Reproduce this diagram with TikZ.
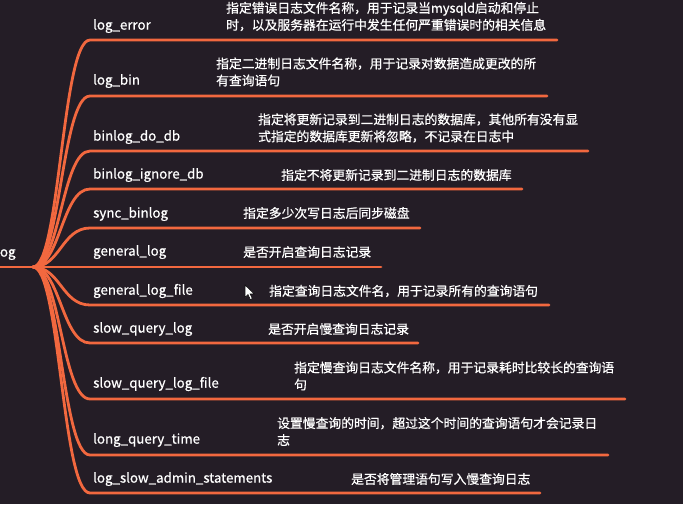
\documentclass[tikz,border=0pt]{standalone}
\usepackage{fontspec}
\setmainfont{Noto Sans CJK SC}
\newfontfamily\thickfont{Noto Sans CJK SC}[FakeBold=0.7]
\definecolor{bgc}{HTML}{241D26}
\definecolor{orng}{HTML}{F2683F}
\tikzset{
  lbl/.style={text=white, font=\thickfont\fontsize{13.3}{15}\selectfont, anchor=west, inner sep=0pt},
  desc/.style={text=white, font=\thickfont\fontsize{12.8}{17}\selectfont, anchor=west, inner sep=0pt, align=left},
  branch/.style={draw=orng, line width=2.8pt, line cap=round},
}
\begin{document}
\begin{tikzpicture}[x=1pt,y=-1pt]
\fill[bgc] (0,0) rectangle (683,504);
\useasboundingbox (0,0) rectangle (683,504);

% root
\node[lbl] (root) at (-4,253) {log};
\coordinate (r) at (33,267);
\coordinate (r0) at (-2,267);
\draw[branch] (r0) -- (r);

% branch ends
\coordinate (e1) at (557,40);
\coordinate (e2) at (547,96);
\coordinate (e3) at (588,151);
\coordinate (e4) at (522,189);
\coordinate (e5) at (420,228);
\coordinate (e6) at (381,267);
\coordinate (e7) at (549,305);
\coordinate (e8) at (418,343);
\coordinate (e9) at (625,399);
\coordinate (e10) at (608,455);
\coordinate (e11) at (540,493);

\foreach \i/\y in {1/40,2/96,3/151,4/189,5/228,7/305,8/343,9/399,10/455,11/493}{
  \draw[branch] (r) .. controls (60,267) and (62,\y) .. (90,\y) -- (e\i);
}
\draw[branch] (r) -- (e6);

% labels
\node[lbl] (n1) at (93,26) {log\_error};
\node[lbl] (n2) at (93,81) {log\_bin};
\node[lbl] (n3) at (93,137) {binlog\_do\_db};
\node[lbl] (n4) at (93,175) {binlog\_ignore\_db};
\node[lbl] (n5) at (93,214) {sync\_binlog};
\node[lbl] (n6) at (93,252) {general\_log};
\node[lbl] (n7) at (93,291) {general\_log\_file};
\node[lbl] (n8) at (93,329) {slow\_query\_log};
\node[lbl] (n9) at (93,384) {slow\_query\_log\_file};
\node[lbl] (n10) at (93,440) {long\_query\_time};
\node[lbl] (n11) at (93,479) {log\_slow\_admin\_statements};

% descriptions
\node[desc] (d1) at (226,16.5) {指定错误日志文件名称，用于记录当mysqld启动和停止\\时，以及服务器在运行中发生任何严重错误时的相关信息};
\node[desc] (d2) at (216,72) {指定二进制日志文件名称，用于记录对数据造成更改的所\\有查询语句};
\node[desc] (d3) at (258,128) {指定将更新记录到二进制日志的数据库，其他所有没有显\\式指定的数据库更新将忽略，不记录在日志中};
\node[desc] (d4) at (281,175) {指定不将更新记录到二进制日志的数据库};
\node[desc] (d5) at (243,213) {指定多少次写日志后同步磁盘};
\node[desc] (d6) at (243,252) {是否开启查询日志记录};
\node[desc] (d7) at (269,291) {指定查询日志文件名，用于记录所有的查询语句};
\node[desc] (d8) at (268,329) {是否开启慢查询日志记录};
\node[desc] (d9) at (294,376) {指定慢查询日志文件名称，用于记录耗时比较长的查询语\\句};
\node[desc] (d10) at (277,431.5) {设置慢查询的时间，超过这个时间的查询语句才会记录日\\志};
\node[desc] (d11) at (351,479) {是否将管理语句写入慢查询日志};

% mouse cursor
\coordinate (c0) at (245,285);
\fill[white, draw=black, line width=0.5pt] (c0) -- ++(0,12.5) -- ++(3,-3) -- ++(2.3,5) -- ++(2,-0.9) -- ++(-2.3,-4.8) -- ++(4.2,0) -- cycle;
\end{tikzpicture}
\end{document}
